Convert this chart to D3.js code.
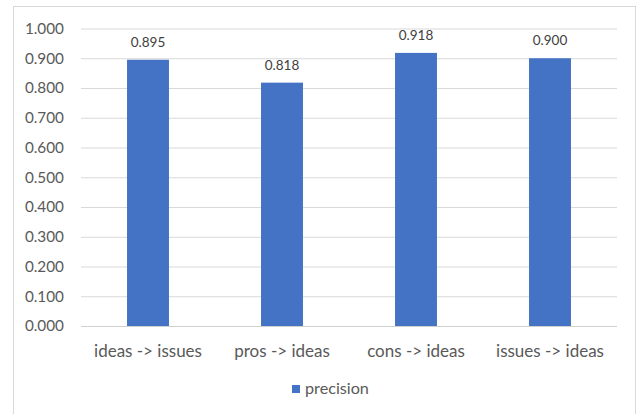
<!DOCTYPE html>
<html>
<head>
<meta charset="utf-8">
<script src="https://cdn.jsdelivr.net/npm/d3@7"></script>
<style>
  html, body { margin: 0; padding: 0; background: #fff; }
  svg { display: block; font-family: Lato, "Open Sans", sans-serif; }
</style>
</head>
<body>
<svg id="chart" width="640" height="414"></svg>
<script>
// Precision per link type
const categories = ["ideas -> issues", "pros -> ideas", "cons -> ideas", "issues -> ideas"];
const precision = [0.895, 0.818, 0.918, 0.900];
const yTicks = [0, 0.1, 0.2, 0.3, 0.4, 0.5, 0.6, 0.7, 0.8, 0.9, 1.0];
const seriesName = "precision";

const svg = d3.select("#chart");
const plot = { left: 81, right: 617, top: 28.5, bottom: 326 };
const barColor = "#4472C4";
const gridColor = "#d9d9d9";
const textColor = "#595959";

// chart frame
svg.append("rect")
  .attr("x", 13.5).attr("y", 6.5)
  .attr("width", 635 - 13).attr("height", 420)
  .attr("fill", "#fff").attr("stroke", "#d9d9d9").attr("stroke-width", 1);

const x = d3.scaleBand()
  .domain(categories)
  .range([plot.left, plot.right])
  .paddingInner(0.687)
  .paddingOuter(0.687 / 2);

const y = d3.scaleLinear().domain([0, 1]).range([plot.bottom, plot.top]);

// gridlines and tick labels
const yAxis = d3.axisLeft(y)
  .tickValues(yTicks)
  .tickFormat(d3.format(".3f"))
  .tickSize(-(plot.right - plot.left))
  .tickPadding(17);

const gy = svg.append("g")
  .attr("transform", `translate(${plot.left},0)`)
  .call(yAxis);
gy.select(".domain").remove();
gy.selectAll(".tick line").attr("stroke", gridColor).attr("stroke-width", 1);
gy.selectAll(".tick text")
  .attr("fill", textColor)
  .style("font-size", "15.3px")
  .style("font-family", "Lato, sans-serif");

// bars
const data = categories.map((c, i) => ({ cat: c, value: precision[i] }));
svg.append("g").selectAll("rect")
  .data(data)
  .join("rect")
  .attr("x", d => x(d.cat))
  .attr("y", d => y(d.value))
  .attr("width", x.bandwidth())
  .attr("height", d => y(0) - y(d.value))
  .attr("fill", barColor);

// baseline
svg.append("line")
  .attr("x1", plot.left).attr("x2", plot.right)
  .attr("y1", y(0) + 0.5).attr("y2", y(0) + 0.5)
  .attr("stroke", "#d0d0d0").attr("stroke-width", 1);

// value labels
svg.append("g").selectAll("text")
  .data(data)
  .join("text")
  .attr("x", d => x(d.cat) + x.bandwidth() / 2)
  .attr("y", d => y(d.value) - 13)
  .attr("text-anchor", "middle")
  .attr("fill", "#404040")
  .style("font-size", "13.5px")
  .text(d => d3.format(".3f")(d.value));

// category labels
const xAxis = d3.axisBottom(x).tickSize(0);
const gx = svg.append("g")
  .attr("transform", `translate(0,${plot.bottom})`)
  .call(xAxis);
gx.select(".domain").remove();
gx.selectAll(".tick text")
  .attr("y", 30.5)
  .attr("dy", 0)
  .attr("fill", textColor)
  .style("font-size", "17px")
  .style("font-family", "Lato, sans-serif");

// legend
const lg = svg.append("g").attr("transform", "translate(292,385)");
lg.append("rect").attr("width", 8).attr("height", 8).attr("fill", barColor);
lg.append("text")
  .attr("x", 13).attr("y", 8.5)
  .attr("fill", textColor)
  .style("font-size", "16.2px")
  .text(seriesName);
</script>
</body>
</html>
